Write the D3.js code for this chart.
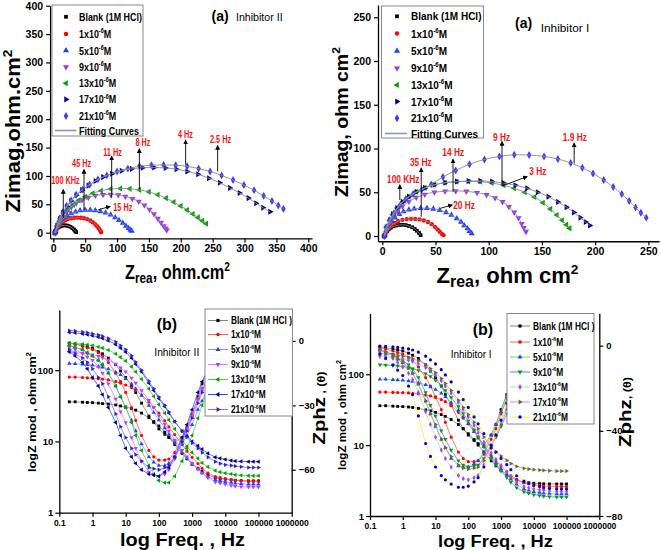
<!DOCTYPE html>
<html><head><meta charset="utf-8">
<script src="https://cdn.jsdelivr.net/npm/d3@7"></script>
<style>body{margin:0;background:#fff}svg{display:block}</style>
</head><body><svg id="c" width="661" height="550"></svg>
<script>
// ================= DATA =================
const blankLabelTop = "Blank (1M HCl)";
const blankLabelBottom = "Blank (1M HCl )";
const concPrefix = ["1x10","5x10","9x10","13x10","17x10","21x10"];
const concExp = "-6";
const fitLabel = "Fitting Curves";

// Nyquist, Inhibitor II  [Zre, -Zim]
const nyqII_blank = [[2,0],[3,3],[4.5,5.5],[6,7.5],[8,9.5],[10,11],[12.5,12],[15,12.8],[18,13],[21,12.7],[24,11.8],[27,10.3],[30,8],[32.5,5.5],[34.5,3],[36,1]];
const nyqII_c1 = [[3,0],[5,6],[8,11],[11,15],[15,19],[19,22],[23,24],[28,25.5],[33,26.3],[38,26.5],[43,26.3],[48,25.5],[53,24],[58,21.5],[62,18.5],[66,14.5],[69,11],[71.5,7.5],[73.5,4],[75,1]];
const nyqII_c5 = [[3,0],[5,8],[8,14],[12,20],[17,26],[22,30.5],[28,34],[35,37],[42,39],[50,40],[58,40],[66,39],[74,37.5],[82,35],[90,31.5],[97,27],[103,22],[109,17],[114,12],[118,8],[121,5],[123,3]];
const nyqII_c9 = [[3,0],[6,10],[10,19],[15,28],[21,37],[28,45],[36,52],[45,57.5],[55,62],[66,65.5],[78,67],[90,67.5],[102,66.5],[113,64],[124,60],[134,55],[143,48.5],[151,41],[158,33],[164,25],[169,18],[173,12],[176,8],[178,5]];
const nyqII_c13 = [[3,0],[6,10],[10,20],[16,30],[23,40],[31,49],[40,57],[50,63.5],[62,69.5],[75,74],[90,77],[105,78],[120,77.5],[135,75.5],[150,72],[164,67],[177,61],[189,54],[200,47],[210,40],[219,33],[227,27],[234,21],[240,16]];
const nyqII_c17 = [[3,0],[6,12],[10,24],[15,35],[21,46],[28,56],[36,66],[45,75],[55,83],[66,91],[78,98],[92,104],[107,109],[123,112.5],[140,114.5],[158,115],[176,114],[193,112],[210,108],[227,103],[244,96],[261,88],[277,79],[292,70],[306,61],[318,52],[329,44],[340,37]];
const nyqII_c21 = [[3,0],[6,13],[10,25],[15,36],[21,47],[28,57],[36,67],[46,76],[57,85],[70,94],[84,101],[100,108],[117,113],[135,117],[154,119],[173,119.5],[192,119],[210,117],[228,113],[246,108],[264,101],[282,93],[299,84],[315,75],[330,65],[343,56],[353,48],[361,42]];

// Nyquist, Inhibitor I
const nyqI_blank = [[2,0],[3,3],[4.5,5.5],[6,7.5],[8,9.5],[10.5,11],[13,12],[16,12.6],[19,12.8],[22,12.5],[25,11.5],[28,10],[30.5,8],[32.5,6],[34.5,3.5],[36,1]];
const nyqI_c1 = [[2,0],[4,5],[6,9],[9,12.5],[12,15],[15,17],[19,18.5],[23,19.3],[27,19.6],[31,19.5],[35,19],[39,17.8],[43,16],[46.5,13.5],[49.5,10.5],[52,7.5],[54,5],[56,2.5],[57.5,1]];
const nyqI_c5 = [[2,0],[4,7],[6,12],[9,17],[12,21],[16,25],[20,28],[25,30],[30,31.2],[36,31.8],[42,31.8],[48,31],[54,29.5],[60,27],[65,24],[70,20],[74,16],[77,12],[80,8.5],[82,5.5],[84,3]];
const nyqI_c9 = [[2,0],[4,9],[7,16],[10,22],[14,28],[19,34],[25,39.5],[32,44],[40,47.5],[49,50],[59,51.2],[69,51.5],[79,51],[89,49.5],[98,47],[106,43.5],[113,39],[119,33.5],[124,27],[128,20.5],[131,14],[133,9.5],[135,5]];
const nyqI_c13 = [[2,0],[4,10],[7,18],[10,25],[14,32],[19,39],[25,45],[32,50.5],[40,55],[49,58.5],[59,60.8],[70,62],[81,62.3],[92,62],[103,60.5],[114,58],[124,54.5],[134,50],[143,44.5],[151,38],[158,31],[164,24],[169,18],[173,13],[176,9]];
const nyqI_c17 = [[2,0],[4,10],[7,18],[10,25],[14,32],[19,39],[25,45],[32,50.5],[40,55],[49,58.5],[59,61],[70,62.3],[81,62.8],[92,63],[103,62.2],[114,60.5],[125,58],[136,54.5],[146,50],[156,45],[165,39],[173,33],[180,27],[186,21],[191,16],[195,12]];
const nyqI_c21 = [[2,0],[4,10],[7,18],[11,26],[16,34],[22,42],[29,48],[37,53],[46,59],[57,67.5],[69,75],[82,82],[96,87.5],[110,91],[124,92.8],[138,92.5],[152,91],[165,88],[177,83.5],[188,78],[198,71.5],[208,64],[217,56],[225,48],[232,40],[238,32.5],[243,26.5],[248,21]];

// Frequency annotations (label, arrow start, arrow end, label centre) in data units
const annII_labels = ["100 KHz","45 Hz","11 Hz","8 Hz","4 Hz","2.5 Hz","15 Hz"];
const annII_from = [[15.7,26],[48.2,40.5],[91.6,61],[135,77],[207.6,119.8],[257.8,108],[70.6,40.5]];
const annII_to = [[15.7,75.8],[48.2,111],[91.6,134.5],[135,147.5],[207.6,162.6],[257.8,153.3],[88.9,46.3]];
const annII_text = [[19.1,92.2],[44.5,122.8],[92.9,142],[140.7,159],[207.4,172.7],[262.3,163.9],[109,45.3]];
const annI_labels = ["100 KHz","35 Hz","14 Hz","9 Hz","1.9 Hz","3 Hz","20 Hz"];
const annI_from = [[16.5,41.1],[36.6,22],[66.5,50.6],[112.5,58.3],[180.3,83],[112.5,57.1],[54.7,31.7]];
const annI_to = [[16.5,58.3],[36.6,77.4],[66.5,87.6],[112.5,107.8],[180.3,105.9],[135.9,67.8],[65.6,35.4]];
const annI_text = [[19.7,64.8],[36.2,84.2],[66.7,95.2],[112.1,112.8],[180.9,112.8],[146.2,73.5],[76.9,35.4]];

// Bode data (|Z| in ohm cm2, phase in degrees)
const freq = [0.2,0.3,0.5,0.7,1,1.5,2,3,5,7,10,15,20,30,50,70,100,150,200,300,500,700,1000,1500,2000,3000,5000,7000,10000,15000,20000,30000,50000,70000,100000];
const modII_blank = [36,36,35.5,35.2,35,34.5,34,33.5,32.5,31.5,30.5,29,27.5,25,21.5,19,16.5,13.5,11.5,9,6.8,5.7,4.8,4.2,3.8,3.4,3.1,3,2.95,2.9,2.85,2.82,2.8,2.8,2.8];
const modII_c1 = [80,80,79,78,77,76,75,73,69,66,62,57,52,45,36,30,25,19.5,16,12.5,9,7.3,6,4.9,4.2,3.6,3.2,3.1,3,2.9,2.85,2.8,2.75,2.75,2.75];
const modII_c5 = [124,123,121,119,117,113,110,104,94,86,76,64,55,44,32,25.5,20,15.5,12.5,9.5,7,5.8,4.8,4.1,3.6,3.2,2.9,2.8,2.7,2.65,2.6,2.55,2.5,2.5,2.5];
const modII_c9 = [180,178,174,170,165,157,150,140,122,108,95,78,66,52,38,30,23,17.5,14,10.5,7.5,6.1,5,4.1,3.6,3.1,2.7,2.6,2.5,2.4,2.35,2.32,2.3,2.3,2.3];
const modII_c13 = [240,238,233,228,222,213,205,192,170,152,135,112,95,75,55,43,33,25,20,15,10.5,8.5,7,5.8,5,4.4,3.9,3.7,3.6,3.5,3.4,3.35,3.3,3.3,3.3];
const modII_c17 = [340,335,325,316,305,292,280,260,230,205,180,148,122,95,66,52,40,31,25,19,14,11.8,10,8.7,7.8,6.8,6,5.8,5.6,5.4,5.3,5.25,5.2,5.2,5.2];
const modII_c21 = [360,355,345,336,325,312,300,280,250,222,195,160,130,100,70,55,42,32,26,19,14,11.5,9.5,8,7,6,5.2,4.9,4.7,4.6,4.5,4.4,4.3,4.3,4.3];
const phII_blank = [-1,-1.5,-2,-2.7,-3.5,-5,-6,-8,-11,-14,-17,-21,-24,-29,-35,-38,-41,-43.5,-45,-47,-45,-41,-35,-26,-20,-14,-9,-7,-5,-4,-3,-2.5,-2,-1.5,-1];
const phII_c1 = [-1,-1.5,-2.5,-3.2,-4,-5.5,-7,-10,-15,-19,-24,-31,-37,-44,-51,-54,-55.5,-55.5,-55,-52,-45,-40,-34,-27,-23,-17,-11,-9,-7,-5,-4,-3,-2,-1.5,-1];
const phII_c5 = [-2,-3,-4,-5.5,-7,-9,-11,-15,-21,-26,-31,-37,-42,-48,-54,-56.5,-58,-58,-57,-54,-48,-44,-39,-32,-28,-22,-15,-12,-9,-7,-5,-4,-3,-2.5,-2];
const phII_c9 = [-3,-4,-6,-7.5,-9,-12,-15,-20,-27,-33,-38,-45,-50,-56,-61,-62.5,-63,-62,-60,-55,-47,-41,-35,-27,-22,-16,-10,-8,-6,-5,-4,-3,-2,-1.5,-1];
const phII_c13 = [-2,-3,-4,-5.5,-7,-9,-11,-15,-21,-26,-31,-38,-44,-51,-58,-62,-65,-66,-66,-63,-56,-50,-44,-36,-30,-22,-15,-12,-9,-7,-5,-4,-3,-2.5,-2];
const phII_c17 = [-5,-7,-10,-13,-17,-21,-25,-31,-38,-44,-50,-54,-57,-60,-62,-62.5,-63,-61,-59,-54,-45,-39,-32,-24,-19,-13,-8,-6.5,-5,-4,-3,-2.5,-2,-1.5,-1];
const phII_c21 = [-4,-6,-8,-10,-13,-17,-20,-26,-34,-40,-45,-50,-53,-56,-59,-59.5,-60,-59,-58,-54,-47,-42,-36,-29,-24,-17,-11,-9,-7,-5.5,-4,-3,-2,-1.5,-1];

const modI_blank = [36,36,35.5,35.2,35,34.5,34,33,31.5,30.5,29,27,25.5,23,19.5,17,14.5,12,10,8,6,5.1,4.4,3.8,3.5,3.2,3,2.95,2.9,2.87,2.85,2.84,2.83,2.83,2.83];
const modI_c1 = [56,56,55.5,55.2,55,54.5,54,53,51,49.5,47,44,41,36,29,24,20,16,13,10,7.2,6,5,4.2,3.7,3.3,2.95,2.85,2.75,2.7,2.65,2.62,2.6,2.6,2.6];
const modI_c5 = [85,85,84,83,82,80.5,79,76,71,66,61,54,48,40,31,25,20,15.5,12.5,9.5,6.8,5.6,4.6,3.8,3.3,2.8,2.4,2.3,2.2,2.15,2.1,2.07,2.05,2.05,2.05];
const modI_c9 = [136,135,133,131,128,124,120,113,102,93,82,69,59,47,35,28,22,16.5,13,9.5,6.5,5.3,4.3,3.5,3,2.5,2.2,2.1,2,1.95,1.9,1.87,1.85,1.85,1.85];
const modI_c13 = [178,176,172,168,164,158,152,141,124,111,97,81,68,54,40,32,25,19,15,11,7.8,6.3,5.2,4.2,3.6,3,2.6,2.5,2.4,2.35,2.3,2.25,2.2,2.2,2.2];
const modI_c17 = [195,193,189,185,180,173,166,155,135,120,105,87,74,59,43,34,27,21,17,13,9.5,8,7,6.1,5.5,5,4.7,4.6,4.5,4.45,4.4,4.35,4.3,4.3,4.3];
const modI_c21 = [250,248,244,240,235,228,220,205,180,160,140,116,98,78,56,44,34,25,20,14.5,10,8,6.5,5.3,4.5,3.7,3.1,2.9,2.7,2.6,2.5,2.45,2.4,2.4,2.4];
const phI_blank = [-0.5,-1,-1.5,-2,-2.5,-3.5,-4.5,-6,-9,-12,-15,-19,-23,-28,-35,-39,-42,-44.5,-46,-46.5,-42,-37,-30,-23,-18,-12,-8,-6.5,-5,-4,-3,-2.5,-2,-1.5,-1];
const phI_c1 = [-1,-1.5,-2.5,-3.2,-4,-5.5,-7,-10,-15,-19,-24,-30,-36,-43,-50,-53,-54.5,-54.5,-54,-51,-44,-39,-32,-25,-20,-14,-9,-7.5,-6,-4.5,-3,-2.5,-2,-1.5,-1];
const phI_c5 = [-2,-3,-4.5,-6,-8,-10.5,-13,-18,-26,-32,-38,-44,-48,-53,-56.5,-57,-57,-55.5,-54,-50,-42,-37,-31,-24,-20,-14,-9,-7.5,-6,-4.5,-3,-2.5,-2,-1.5,-1];
const phI_c9 = [-2,-3,-4,-5.5,-7,-9,-11,-15,-22,-28,-33,-40,-44,-49,-54,-56,-57,-56.5,-56,-53,-47,-43,-38,-32,-28,-22,-15,-12,-9,-7,-5,-4,-3,-2.5,-2];
const phI_c13 = [-3,-4,-6,-8,-10,-13,-16,-22,-31,-37,-43,-49,-53,-57,-61,-62.5,-63,-62,-61,-56,-48,-42,-36,-28,-23,-17,-11,-9,-7,-5.5,-4,-3,-2,-1.5,-1];
const phI_c17 = [-2,-3,-5,-6.5,-8,-10.5,-13,-18,-26,-32,-37,-44,-48,-52,-56,-57.5,-58,-57.5,-57,-54,-47,-42,-37,-30,-26,-20,-13,-10,-8,-6,-5,-4,-3,-2.5,-2];
const phI_c21 = [-4,-6,-9,-11.5,-14,-19,-23,-33,-46,-52,-57,-61,-63,-65,-66.5,-66.5,-66,-64,-62,-57,-48,-42,-35,-27,-22,-16,-10,-8,-6,-5,-4,-3,-2,-1.5,-1];

const nyqTicksII_x = [0,50,100,150,200,250,300,350,400];
const nyqTicksII_y = [0,50,100,150,200,250,300,350,400];
const nyqTicksI_x = [0,50,100,150,200,250];
const nyqTicksI_y = [0,50,100,150,200,250];
const bodeTicks_x = [0.1,1,10,100,1000,10000,100000,1000000];
const bodeTicks_y = [1,10,100];
const phTicksII = [0,-30,-60];
const phTicksI = [0,-40,-80];

// ================= STYLES =================
const FONT = "'Liberation Sans', Arial, Helvetica, sans-serif";
const nyqStyles = [
  {shape:"square", color:"#000000", size:14},
  {shape:"circle", color:"#ff0000", size:15},
  {shape:"tri-up", color:"#1f3fff", size:16},
  {shape:"tri-down", color:"#a030f0", size:16},
  {shape:"tri-left", color:"#00a000", size:16},
  {shape:"tri-right", color:"#00008c", size:16},
  {shape:"diamond", color:"#3a3aff", size:18}];
const bodeStylesII = [
  {line:"#808080", shape:"square", color:"#000000"},
  {line:"#ff5a5a", shape:"circle", color:"#ff0000"},
  {line:"#7b96ff", shape:"tri-up", color:"#2040ff"},
  {line:"#e080ff", shape:"tri-down", color:"#b040ff"},
  {line:"#50d050", shape:"tri-left", color:"#00a000"},
  {line:"#2a48ff", shape:"tri-left", color:"#000090"},
  {line:"#8070ff", shape:"tri-right", color:"#3020c0"}];
const bodeStylesI = [
  {line:"#808080", shape:"square", color:"#000000"},
  {line:"#ff6060", shape:"circle", color:"#ff0000"},
  {line:"#60e060", shape:"tri-up", color:"#2040ff"},
  {line:"#7070ff", shape:"tri-down", color:"#00a000"},
  {line:"#a8e8a8", shape:"diamond", color:"#b040ff"},
  {line:"#e080ff", shape:"tri-right", color:"#607020"},
  {line:"#eeee50", shape:"circle", color:"#0000d0"}];

const svg = d3.select("#c");
svg.append("rect").attr("width",661).attr("height",550).attr("fill","#fff");
const defs = svg.append("defs");
defs.append("marker").attr("id","arr").attr("viewBox","0 0 10 10").attr("refX",8).attr("refY",5)
  .attr("markerWidth",5).attr("markerHeight",5).attr("markerUnits","userSpaceOnUse").attr("orient","auto")
  .append("path").attr("d","M0,0 L10,5 L0,10 z").attr("fill","#000");

function addText(parent, x, y, parts, o) {
  o = o || {};
  const base = o.size || 10;
  const g = parent.append("g");
  const t = g.append("text").attr("font-family", FONT).attr("font-size", base)
    .attr("font-weight", o.weight || "normal").attr("fill", o.fill || "#000")
    .attr("text-anchor", o.anchor || "start");
  if (typeof parts === "string") parts = [{t: parts}];
  let shift = 0;
  parts.forEach(p => {
    const sz = base * (p.k || (p.sup || p.sub ? 0.62 : 1));
    const target = p.sup ? -base * 0.42 : p.sub ? base * 0.18 : 0;
    t.append("tspan").attr("font-size", sz).attr("dy", target - shift).text(p.t);
    shift = target;
  });
  let sx = o.sx || 1;
  if (o.fitW) sx = o.fitW / t.node().getComputedTextLength();
  if (o.measureOnly) { g.remove(); return sx; }
  g.attr("transform", `translate(${x},${y}) rotate(${o.rotate || 0}) scale(${sx},1)`);
  return sx;
}

const SHAPES = {square:[d3.symbolSquare,0], circle:[d3.symbolCircle,0], "tri-up":[d3.symbolTriangle,0],
  "tri-down":[d3.symbolTriangle,180], "tri-left":[d3.symbolTriangle,-90], "tri-right":[d3.symbolTriangle,90],
  diamond:[d3.symbolDiamond,0]};
function sym(g, x, y, shape, size, color) {
  const [t, r] = SHAPES[shape];
  g.append("path").attr("d", d3.symbol().type(t).size(size)())
    .attr("transform", `translate(${x},${y}) rotate(${r})`).attr("fill", color);
}
function styleAx(sel, size) {
  sel.selectAll("text").attr("font-family", FONT).attr("font-weight", "bold").attr("font-size", size).attr("fill", "#000");
  sel.select(".domain").attr("stroke", "#000").attr("stroke-width", 1.3);
  sel.selectAll(".tick line").attr("stroke", "#000").attr("stroke-width", 1.2);
}
function concParts(i) { return [{t: concPrefix[i]}, {t: concExp, sup: true}, {t: "M"}]; }

// ================= NYQUIST PANELS =================
function nyquist(p) {
  const g = svg.append("g");
  const xS = p.xS, yS = p.yS;
  g.append("g").attr("transform", `translate(0,${yS.range()[0]})`)
    .call(d3.axisBottom(xS).tickValues(p.xTicks).tickSize(4).tickSizeOuter(0).tickPadding(2))
    .call(s => styleAx(s, 10.5));
  g.append("g").attr("transform", `translate(${xS.range()[0]},0)`)
    .call(d3.axisLeft(yS).tickValues(p.yTicks).tickSize(4).tickSizeOuter(0).tickPadding(3))
    .call(s => styleAx(s, 10.5));
  p.data.forEach((d, i) => {
    const st = nyqStyles[i];
    d.forEach(pt => sym(g, xS(pt[0]), yS(pt[1]), st.shape, st.size, st.color));
  });
  const line = d3.line().x(d => xS(d[0])).y(d => yS(d[1])).curve(d3.curveCatmullRom);
  p.data.forEach(d => g.append("path").attr("d", line(d)).attr("fill", "none")
    .attr("stroke", "#8a8a8a").attr("stroke-width", 0.9));
  // annotations
  const sxA = addText(g, 0, 0, p.ann.labels[0], {size: 10, weight: "bold", fitW: p.annW, measureOnly: true});
  p.ann.labels.forEach((lab, i) => {
    const a = p.ann.from[i], b = p.ann.to[i], c = p.ann.text[i];
    g.append("line").attr("x1", xS(a[0])).attr("y1", yS(a[1])).attr("x2", xS(b[0])).attr("y2", yS(b[1]))
      .attr("stroke", "#000").attr("stroke-width", 0.9).attr("marker-end", "url(#arr)");
    addText(g, xS(c[0]), yS(c[1]) + 3.6, lab, {size: 10, weight: "bold", fill: "#ff1010", anchor: "middle", sx: sxA});
  });
  // legend
  const L = p.leg;
  g.append("rect").attr("x", L.x).attr("y", L.y).attr("width", L.w).attr("height", L.h)
    .attr("fill", "#fff").attr("stroke", "#888").attr("stroke-width", 1);
  const sxL = addText(g, L.tx, L.rows[0] + 4, blankLabelTop, {size: 11.5, weight: "bold", fitW: L.blankW});
  sym(g, L.mx, L.rows[0], nyqStyles[0].shape, nyqStyles[0].size, nyqStyles[0].color);
  concPrefix.forEach((c, i) => {
    const st = nyqStyles[i + 1];
    sym(g, L.mx, L.rows[i + 1], st.shape, st.size, st.color);
    addText(g, L.tx, L.rows[i + 1] + 4, concParts(i), {size: 11.5, weight: "bold", sx: sxL});
  });
  const fy = L.rows[7];
  g.append("line").attr("x1", L.lx1).attr("x2", L.lx2).attr("y1", fy).attr("y2", fy)
    .attr("stroke", "#8c98b8").attr("stroke-width", 1.6);
  addText(g, L.tx, fy + 4, fitLabel, {size: 11.5, weight: "bold", sx: sxL});
  // texts
  addText(g, p.a.x, p.a.y, "(a)", {size: 14, weight: "bold"});
  addText(g, p.inh.x, p.inh.y, p.inh.t, {size: 11, fitW: p.inh.w});
  addText(g, p.yt.x, p.yt.y, p.yt.parts, {size: p.yt.size, weight: "bold", anchor: "middle", rotate: -90, fitW: p.yt.w});
  addText(g, p.xt.x, p.xt.y, p.xt.parts, {size: p.xt.size, weight: "bold", anchor: "middle", fitW: p.xt.w});
}

nyquist({
  xS: d3.scaleLinear([-5, 406], [50.1, 312.1]),
  yS: d3.scaleLinear([-10, 400], [238.4, 5.7]),
  xTicks: nyqTicksII_x, yTicks: nyqTicksII_y,
  data: [nyqII_blank, nyqII_c1, nyqII_c5, nyqII_c9, nyqII_c13, nyqII_c17, nyqII_c21],
  ann: {labels: annII_labels, from: annII_from, to: annII_to, text: annII_text}, annW: 28.5,
  leg: {x: 52, y: 5, w: 91, h: 131, mx: 66, tx: 79, lx1: 55, lx2: 76.5, blankW: 63,
        rows: [16.8, 34, 50.6, 67, 83.3, 99.4, 116, 130.5]},
  a: {x: 211.5, y: 21}, inh: {x: 236, y: 20.5, t: "Inhibitor II", w: 46.7},
  yt: {x: 20, y: 131, size: 20, w: 163, parts: [{t: "Zimag,ohm.cm"}, {t: "2", sup: true}]},
  xt: {x: 177.5, y: 279, size: 20, w: 105, parts: [{t: "Z"}, {t: "rea", sub: true, k: 0.72}, {t: ", ohm.cm"}, {t: "2", sup: true}]}
});

nyquist({
  xS: d3.scaleLinear([-4, 260], [378, 659]),
  yS: d3.scaleLinear([-6, 264], [241.25, 5]),
  xTicks: nyqTicksI_x, yTicks: nyqTicksI_y,
  data: [nyqI_blank, nyqI_c1, nyqI_c5, nyqI_c9, nyqI_c13, nyqI_c17, nyqI_c21],
  ann: {labels: annI_labels, from: annI_from, to: annI_to, text: annI_text}, annW: 32.5,
  leg: {x: 381.5, y: 6, w: 102, h: 132, mx: 397, tx: 411, lx1: 385, lx2: 407, blankW: 70.5,
        rows: [16.3, 33.5, 51, 68.2, 85, 101.6, 118.2, 133.5]},
  a: {x: 515, y: 28}, inh: {x: 540.7, y: 31.5, t: "Inhibitor I", w: 48.7},
  yt: {x: 348, y: 122, size: 19, w: 150, parts: [{t: "Zimag, ohm cm"}, {t: "2", sup: true}]},
  xt: {x: 507.5, y: 283, size: 22, w: 142, parts: [{t: "Z"}, {t: "rea", sub: true, k: 0.72}, {t: ", ohm cm"}, {t: "2", sup: true}]}
});

// ================= BODE PANELS =================
function bode(p) {
  const g = svg.append("g");
  const xS = p.xS, yS = p.yS, pS = p.pS;
  const y0 = yS.range()[0], xL = xS.range()[0], xR = xS.range()[1];
  g.append("g").attr("transform", `translate(0,${y0})`)
    .call(d3.axisBottom(xS).tickValues(bodeTicks_x).tickFormat(d => d < 1 ? "0.1" : String(d))
      .tickSize(4).tickSizeOuter(0).tickPadding(p.xPad))
    .call(s => styleAx(s, 8.5));
  g.append("g").attr("transform", `translate(${xL},0)`)
    .call(d3.axisLeft(yS).tickValues(bodeTicks_y).tickFormat(d3.format("d")).tickSize(4).tickSizeOuter(0).tickPadding(2))
    .call(s => styleAx(s, 9.5));
  g.append("g").attr("transform", `translate(${xR},0)`)
    .call(d3.axisRight(pS).tickValues(p.phTicks).tickSize(4).tickSizeOuter(0).tickPadding(3))
    .call(s => styleAx(s, 9.5));
  const n = freq.length;
  const lm = d3.line().x((d, i) => xS(freq[i])).y(d => yS(d));
  const lp = d3.line().x((d, i) => xS(freq[i])).y(d => pS(d));
  p.mods.forEach((mAll, i) => {
    const st = p.styles[i];
    const m = mAll.slice(0, n), ph = p.phs[i].slice(0, n);
    g.append("path").attr("d", lm(m)).attr("fill", "none").attr("stroke", st.line).attr("stroke-width", 0.8);
    g.append("path").attr("d", lp(ph)).attr("fill", "none").attr("stroke", st.line).attr("stroke-width", 0.8);
    m.forEach((v, j) => sym(g, xS(freq[j]), yS(v), st.shape, 8, st.color));
    ph.forEach((v, j) => sym(g, xS(freq[j]), pS(v), st.shape, 8, st.color));
  });
  const L = p.leg;
  g.append("rect").attr("x", L.x).attr("y", L.y).attr("width", L.w).attr("height", L.h)
    .attr("fill", "#fff").attr("stroke", "#888").attr("stroke-width", 1);
  let sxL = 1;
  L.rows.forEach((ry, i) => {
    const st = p.styles[i];
    g.append("line").attr("x1", L.lx1).attr("x2", L.lx2).attr("y1", ry).attr("y2", ry)
      .attr("stroke", st.line).attr("stroke-width", 1);
    sym(g, (L.lx1 + L.lx2) / 2, ry, st.shape, 10, st.color);
    if (i === 0) sxL = addText(g, L.tx, ry + 3.5, blankLabelBottom, {size: 10, weight: "bold", fitW: L.blankW});
    else addText(g, L.tx, ry + 3.5, concParts(i - 1), {size: 10, weight: "bold", sx: sxL});
  });
  addText(g, p.b.x, p.b.y, "(b)", {size: 16, weight: "bold"});
  addText(g, p.inh.x, p.inh.y, p.inh.t, {size: 10.5, fitW: p.inh.w});
  addText(g, p.xt.x, p.xt.y, p.xt.t, {size: p.xt.size, weight: "bold", anchor: "middle", fitW: p.xt.w});
  addText(g, p.ylt.x, p.ylt.y, [{t: "logZ mod , ohm cm"}, {t: "2", sup: true}],
    {size: 11.5, weight: "bold", anchor: "middle", rotate: -90, fitW: p.ylt.w});
  addText(g, p.yrt.x, p.yrt.y, [{t: "Zphz"}, {t: p.yrt.tail, k: 0.62}],
    {size: 16.5, weight: "bold", anchor: "middle", rotate: -90, fitW: p.yrt.w});
}

bode({
  xS: d3.scaleLog([0.1, 1e6], [59.3, 291.7]),
  yS: d3.scaleLog([1, 700], [512.7, 310]),
  pS: d3.scaleLinear([-80, 14.4], [512.7, 310]),
  phTicks: phTicksII, xPad: 3,
  mods: [modII_blank, modII_c1, modII_c5, modII_c9, modII_c13, modII_c17, modII_c21],
  phs: [phII_blank, phII_c1, phII_c5, phII_c9, phII_c13, phII_c17, phII_c21],
  styles: bodeStylesII,
  leg: {x: 205, y: 309, w: 87.5, h: 107, lx1: 208, lx2: 228, tx: 231, blankW: 61,
        rows: [320.5, 334.5, 349.5, 364.5, 379.5, 394.5, 409.5]},
  b: {x: 156.7, y: 329.5}, inh: {x: 154.3, y: 355.5, t: "Inhibitor II", w: 45},
  xt: {x: 182.5, y: 546, size: 18, w: 125, t: "log Freq. ,  Hz"},
  ylt: {x: 36, y: 412, w: 120},
  yrt: {x: 324.5, y: 408, w: 73, tail: " , (θ)"}
});

bode({
  xS: d3.scaleLog([0.1, 1e6], [370, 599.3]),
  yS: d3.scaleLog([1, 725], [516, 313.3]),
  pS: d3.scaleLinear([-80, 15.2], [516, 313.3]),
  phTicks: phTicksI, xPad: 3,
  mods: [modI_blank, modI_c1, modI_c5, modI_c9, modI_c13, modI_c17, modI_c21],
  phs: [phI_blank, phI_c1, phI_c5, phI_c9, phI_c13, phI_c17, phI_c21],
  styles: bodeStylesI,
  leg: {x: 507, y: 313.5, w: 87, h: 110.5, lx1: 510, lx2: 530, tx: 533, blankW: 61.5,
        rows: [326, 342, 357, 372, 387, 402, 417]},
  b: {x: 472.7, y: 334.5}, inh: {x: 450.7, y: 358, t: "Inhibitor I", w: 41},
  xt: {x: 495.5, y: 547, size: 17, w: 115, t: "log Freq. , Hz"},
  ylt: {x: 346, y: 415, w: 110},
  yrt: {x: 631, y: 412, w: 70, tail: ", (θ)"}
});
</script>
</body></html>
